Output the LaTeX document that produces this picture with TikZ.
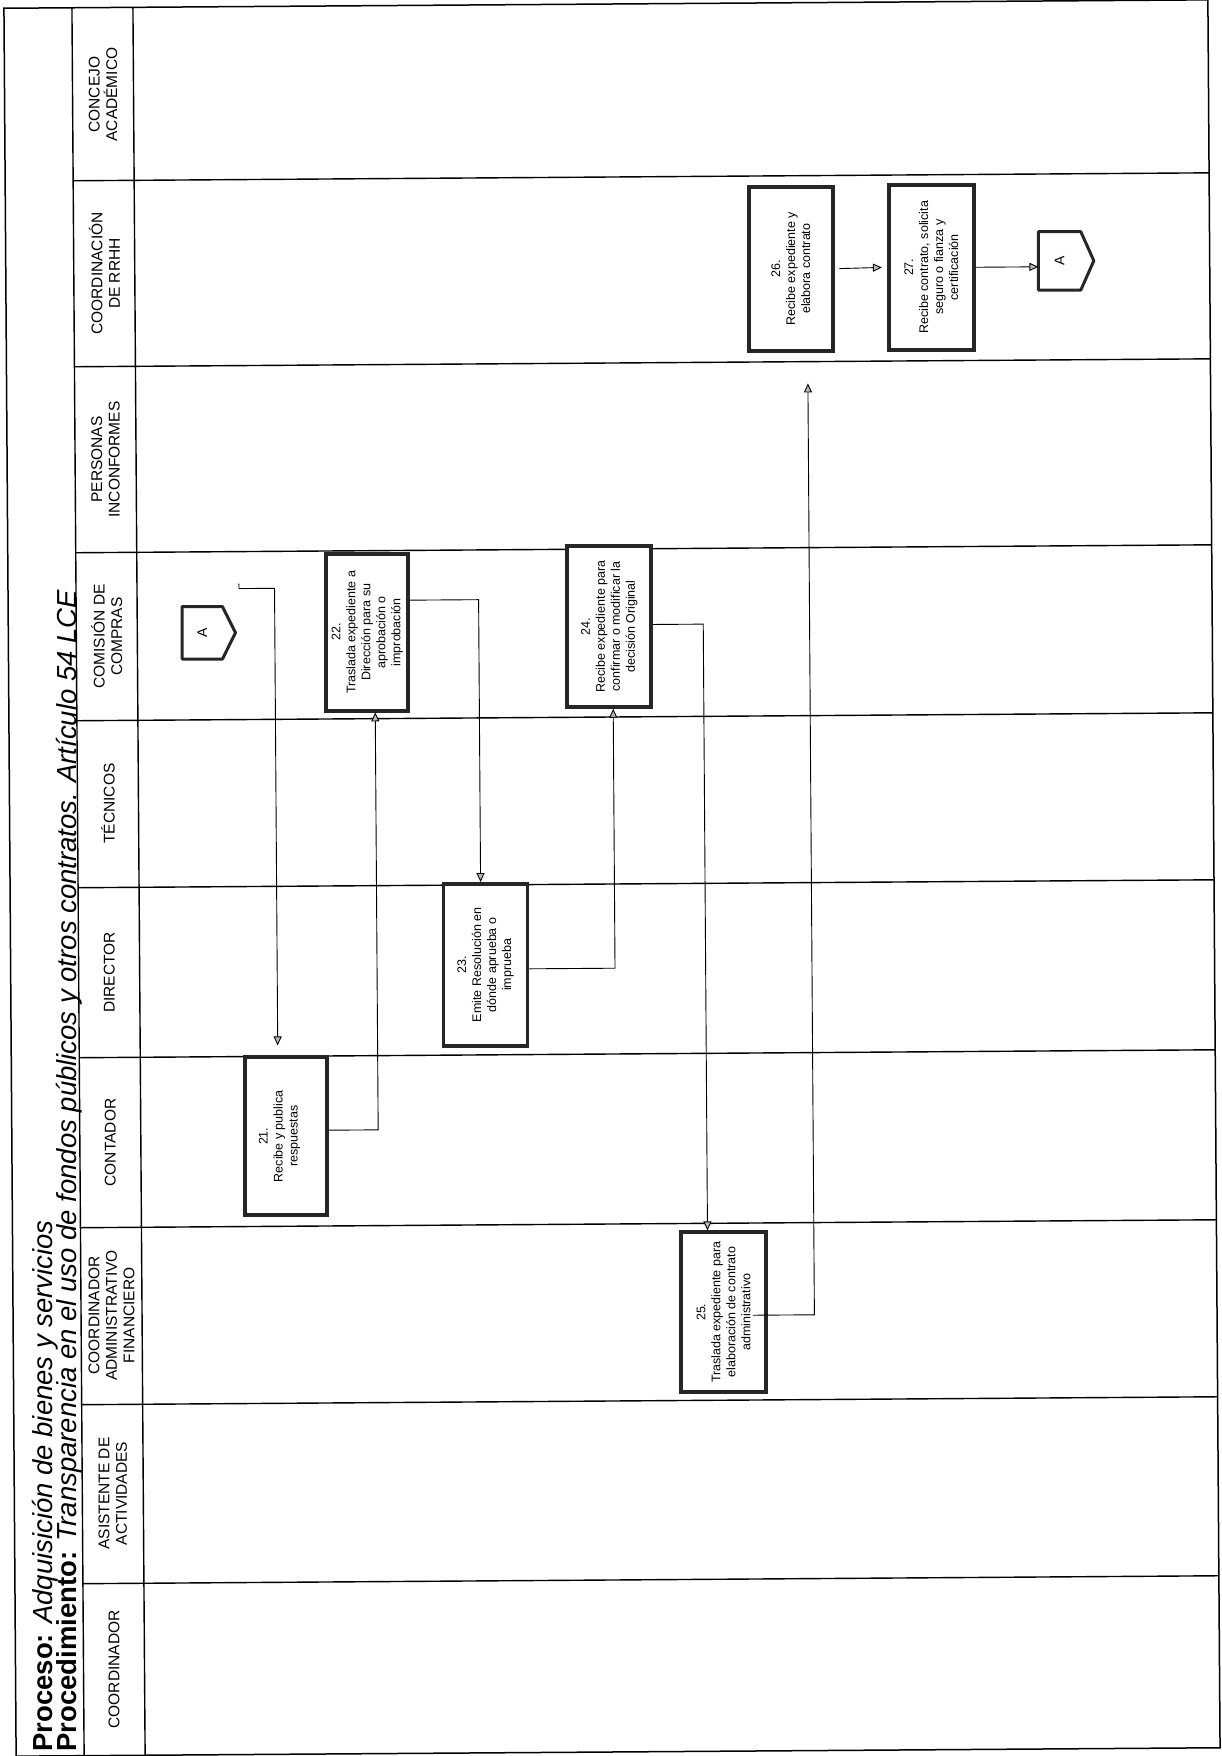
\documentclass[tikz,border=0pt]{standalone}
\usepackage{fontspec}
\setmainfont{Liberation Sans}
\usetikzlibrary{arrows.meta,calc}
\begin{document}
\begin{tikzpicture}[x=1pt,y=-1pt,
  frame/.style={line width=1.5pt},
  lane/.style={line width=1.4pt},
  stepbox/.style={draw=black!85, line width=3.6pt, rotate=90, inner sep=2pt,
    align=center, fill=white, font=\fontsize{12.5}{15}\selectfont},
  lanelabel/.style={rotate=90, align=center, inner sep=0pt,
    font=\fontsize{15.5}{17.5}\selectfont},
  titletext/.style={rotate=90, anchor=base west, inner sep=0pt,
    font=\fontsize{27.5}{32}\selectfont},
  flow/.style={line width=0.9pt, -{Triangle[length=9pt,width=8pt,fill=gray!55]}},
  offlabel/.style={rotate=90, inner sep=0pt, font=\fontsize{14}{14}\selectfont},
  offpage/.style={draw=black!85, line width=3pt, fill=white, line join=round},
]
\useasboundingbox (0,0) rectangle (1221,1756);

\begin{scope}[rotate around={0.4:(611,878)}]

% frame, title column and lane header column
\draw[frame] (10,4) rectangle (1214,1752);
\draw[lane] (78,4) -- (78,1752);
\draw[lane] (139,4) -- (139,1752);
\foreach \yy in {177,363,549,717,884,1054,1224,1401,1580}
  \draw[lane] (78,\yy) -- (1214,\yy);

% title
\node[titletext] (title1) at (46,1748)
  {\textbf{Proceso:} \textit{Adquisición de bienes y servicios}};
\node[titletext] (title2) at (70,1748)
  {\textbf{Procedimiento:} \textit{Transparencia en el uso de fondos públicos y otros contratos. Artículo 54 LCE}};

% lane names
\node[lanelabel] (l1)  at (108.5,91)   {CONCEJO\\ACADÉMICO};
\node[lanelabel] (l2)  at (108.5,270)  {COORDINACIÓN\\DE RRHH};
\node[lanelabel] (l3)  at (108.5,456)  {PERSONAS\\INCONFORMES};
\node[lanelabel] (l4)  at (108.5,633)  {COMISIÓN DE\\COMPRAS};
\node[lanelabel] (l5)  at (108.5,800)  {TÉCNICOS};
\node[lanelabel] (l6)  at (108.5,969)  {DIRECTOR};
\node[lanelabel] (l7)  at (108.5,1139) {CONTADOR};
\node[lanelabel] (l8)  at (108.5,1312) {COORDINADOR\\ADMINISTRATIVO\\FINANCIERO};
\node[lanelabel] (l9)  at (108.5,1490) {ASISTENTE DE\\ACTIVIDADES};
\node[lanelabel] (l10) at (108.5,1666) {COORDINADOR};

% process steps
\node[stepbox, minimum width=158pt, minimum height=82pt] (b21) at (284,1134)
  {21.\\Recibe y publica\\respuestas\\\mbox{}};
\node[stepbox, minimum width=157pt, minimum height=82pt] (b22) at (369,630.5)
  {22.\\Traslada expediente a\\Dirección para su\\aprobación o\\improbación};
\node[stepbox, minimum width=162pt, minimum height=84pt] (b23) at (485,964)
  {23.\\Emite Resolución en\\dónde aprueba o\\imprueba};
\node[stepbox, minimum width=161pt, minimum height=84pt] (b24) at (611,626.5)
  {24.\\Recibe expediente para\\confirmar o modificar la\\decisión Original};
\node[stepbox, minimum width=160pt, minimum height=85pt] (b25) at (720.5,1313)
  {25.\\Traslada expediente para\\elaboración de contrato\\administrativo};
\node[stepbox, minimum width=164pt, minimum height=84pt] (b26) at (795,270)
  {26.\\Recibe expediente y\\elabora contrato};
\node[stepbox, minimum width=165pt, minimum height=85pt] (b27) at (935.5,269.5)
  {27.\\Recibe contrato, solicita\\seguro o fianza y\\certificación};

% off-page connectors "A"
\node[offlabel, minimum width=52pt, minimum height=40pt] (offA1) at (204,630) {};
\draw[offpage] (offA1.north east) -- (offA1.south east) -- ($(offA1.south)+(13,0)$)
  -- (offA1.south west) -- (offA1.north west) -- cycle;
\node[offlabel] (offA1txt) at (offA1) {A};

\node[offlabel, minimum width=58pt, minimum height=42pt] (offA2) at (1064,264) {};
\draw[offpage] (offA2.north east) -- (offA2.south east) -- ($(offA2.south)+(13,0)$)
  -- (offA2.south west) -- (offA2.north west) -- cycle;
\node[offlabel] (offA2txt) at (offA2) {A};

% flow
\coordinate (aout) at (241,586);
\draw[flow] ($(aout)+(0,-5)$) -- (aout) -| ($(b21.east)+(-8,-10)$);
\draw[flow] ($(b21.south)+(0,-6)$) -| ($(b22.west)+(8,0)$);
\draw[flow] ($(b22.south)+(0,-32)$) -| ($(b23.east)+(-5,0)$);
\draw[flow] ($(b23.south)+(0,4)$) -| ($(b24.west)+(4,0)$);
\draw[flow] ($(b24.south)+(0,-2)$) -| ($(b25.east)+(-16,0)$);
\draw[flow] ($(b25.south)+(-15,3)$) -| ($(b26.west)+(17,31)$);
\draw[flow, shorten <=5pt, shorten >=5pt] (b26.south) -- (b27.north);
\draw[flow] (b27.south) -- (b27.south -| offA2.north);

\end{scope}
\end{tikzpicture}
\end{document}
